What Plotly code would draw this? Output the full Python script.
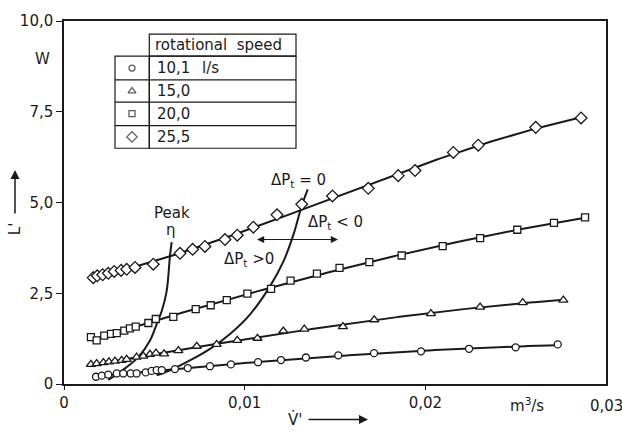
import numpy as np
import plotly.graph_objects as go

# ---------------- data ----------------
speeds = ["10,1", "15,0", "20,0", "25,5"]
symbols = ["circle", "triangle-up", "square", "diamond"]

circ_x = [0.00177, 0.00209, 0.00245, 0.00292, 0.00328, 0.00369, 0.00402, 0.00452, 0.00485,
          0.00513, 0.00541, 0.00614, 0.00685, 0.00808, 0.00924, 0.01074, 0.01201, 0.01339,
          0.01518, 0.01716, 0.01976, 0.02242, 0.02500, 0.02733]
circ_y = [0.20, 0.23, 0.26, 0.29, 0.29, 0.29, 0.29, 0.32, 0.36, 0.38, 0.38, 0.41, 0.44, 0.49,
          0.54, 0.60, 0.66, 0.73, 0.79, 0.85, 0.90, 0.97, 1.01, 1.09]

tri_x = [0.00149, 0.00181, 0.00218, 0.00249, 0.00282, 0.00319, 0.00347, 0.00402, 0.00439,
         0.00476, 0.00509, 0.00554, 0.00633, 0.00735, 0.00845, 0.00959, 0.01071, 0.01214,
         0.01330, 0.01544, 0.01717, 0.02031, 0.02303, 0.02539, 0.02764]
tri_y = [0.54, 0.56, 0.59, 0.61, 0.63, 0.65, 0.68, 0.74, 0.77, 0.82, 0.85, 0.83, 0.92, 1.04,
         1.09, 1.20, 1.26, 1.46, 1.51, 1.58, 1.77, 1.94, 2.12, 2.24, 2.31]

sq_x = [0.00149, 0.00181, 0.00223, 0.00260, 0.00292, 0.00334, 0.00365, 0.00397, 0.00467,
        0.00508, 0.00605, 0.00729, 0.00812, 0.00901, 0.01015, 0.01146, 0.01254, 0.01400,
        0.01525, 0.01690, 0.01869, 0.02096, 0.02303, 0.02509, 0.02712, 0.02884]
sq_y = [1.29, 1.20, 1.33, 1.38, 1.40, 1.47, 1.53, 1.58, 1.68, 1.79, 1.85, 2.06, 2.17, 2.31,
        2.49, 2.62, 2.85, 3.04, 3.20, 3.36, 3.54, 3.80, 4.02, 4.25, 4.44, 4.59]

dia_x = [0.00162, 0.00184, 0.00214, 0.00245, 0.00278, 0.00316, 0.00347, 0.00393, 0.00494,
         0.00642, 0.00712, 0.00780, 0.00891, 0.00959, 0.01048, 0.01179, 0.01316, 0.01486,
         0.01684, 0.01850, 0.01943, 0.02155, 0.02293, 0.02611, 0.02862]
dia_y = [2.93, 2.98, 3.01, 3.05, 3.10, 3.13, 3.16, 3.21, 3.30, 3.60, 3.71, 3.79, 3.98, 4.10,
         4.32, 4.66, 4.95, 5.18, 5.39, 5.74, 5.88, 6.38, 6.58, 7.07, 7.33]

peak_x = [0.00245, 0.00273, 0.00338, 0.00411, 0.00476, 0.00513, 0.00541, 0.00568, 0.00587, 0.00596]
peak_y = [0.11, 0.20, 0.43, 0.74, 1.20, 1.65, 2.01, 2.55, 3.55, 3.91]

dp0_x = [0.00513, 0.00587, 0.00697, 0.00808, 0.00919, 0.01030, 0.01140, 0.01214, 0.01269, 0.01316, 0.01349]
dp0_y = [0.24, 0.38, 0.65, 0.97, 1.38, 1.92, 2.69, 3.37, 4.10, 4.91, 5.36]

x_tickvals = [0, 0.01, 0.02, 0.03]
x_ticktext = ["0", "0,01", "0,02", "0,03"]
y_tickvals = [0, 2.5, 5.0, 7.5, 10.0]
y_ticktext = ["0", "2,5", "5,0", "7,5", "10,0"]

series = [(circ_x, circ_y), (tri_x, tri_y), (sq_x, sq_y), (dia_x, dia_y)]
sizes = [7, 8, 7, 9]

# ---------------- geometry helpers (pixel -> paper) ----------------
W, H = 622, 431
L, R, T, B = 64, 606, 16, 384
X_RANGE = [0, 0.03]
Y_RANGE = [0, 10]


def pxx(xp):
    return (xp - L) / (R - L)


def pxy(yp):
    return (B - yp) / (B - T)


def dx(xp):
    return X_RANGE[0] + pxx(xp) * (X_RANGE[1] - X_RANGE[0])


def dy(yp):
    return Y_RANGE[0] + pxy(yp) * (Y_RANGE[1] - Y_RANGE[0])


FONT = "DejaVu Sans"
INK = "#1a1a1a"

fig = go.Figure()

# fitted curves
for (xs, ys) in series:
    xs_a = np.array(xs)
    ys_a = np.array(ys)
    c = np.polyfit(xs_a, ys_a, 3)
    xf = np.linspace(xs_a.min(), xs_a.max(), 200)
    fig.add_trace(go.Scatter(x=xf, y=np.polyval(c, xf), mode="lines",
                             line=dict(color=INK, width=2), hoverinfo="skip"))

# peak efficiency and dPt = 0 curves
for cx, cy in [(peak_x, peak_y), (dp0_x, dp0_y)]:
    fig.add_trace(go.Scatter(x=cx, y=cy, mode="lines",
                             line=dict(color=INK, width=2, shape="spline", smoothing=1.0),
                             hoverinfo="skip"))

# markers
for (xs, ys), sym, sz in zip(series, symbols, sizes):
    fig.add_trace(go.Scatter(x=xs, y=ys, mode="markers",
                             marker=dict(symbol=sym, size=sz, color="white",
                                         line=dict(color=INK, width=1.3))))

# legend table symbols
row_centers = [63.7, 87.0, 110.0, 133.5]
fig.add_trace(go.Scatter(
    x=[dx(132)] * 4, y=[dy(r) for r in row_centers], mode="markers",
    marker=dict(symbol=symbols, size=[6, 7, 6, 8],
                color="white", line=dict(color=INK, width=1.3)),
    cliponaxis=False))

shapes = []
lw = 1.2


def rect(x0, y0, x1, y1):
    return dict(type="rect", xref="paper", yref="paper", x0=pxx(x0), x1=pxx(x1),
                y0=pxy(y1), y1=pxy(y0), line=dict(color=INK, width=lw))


def hline(x0, x1, y):
    return dict(type="line", xref="paper", yref="paper", x0=pxx(x0), x1=pxx(x1),
                y0=pxy(y), y1=pxy(y), line=dict(color=INK, width=lw))


shapes.append(rect(149.3, 29.3, 296, 51.7))
shapes.append(rect(115, 51.7, 149.3, 145))
shapes.append(rect(149.3, 51.7, 296, 145))
for yy in [75.7, 98.3, 122]:
    shapes.append(hline(115, 296, yy))

annotations = []


def txt(text, xp, yp, size=15, xanchor="center", yanchor="middle", **kw):
    annotations.append(dict(text=text, x=pxx(xp), y=pxy(yp), xref="paper", yref="paper",
                            showarrow=False, xanchor=xanchor, yanchor=yanchor,
                            font=dict(family=FONT, size=size, color=INK), **kw))


def arrow(x_head, y_head, x_tail, y_tail, width=1.3):
    annotations.append(dict(x=pxx(x_head), y=pxy(y_head), xref="paper", yref="paper",
                            ax=x_tail - x_head, ay=y_tail - y_head,
                            axref="pixel", ayref="pixel",
                            showarrow=True, arrowhead=2, arrowsize=1.2, arrowwidth=width,
                            arrowcolor=INK, text=""))


txt("rotational\u00a0\u00a0speed", 153, 40.5, xanchor="left")
txt(speeds[0], 155, 64, xanchor="left")
txt("l/s", 200, 64, xanchor="left")
for s, yy in zip(speeds[1:], [87, 110, 133.5]):
    txt(s, 155, yy, xanchor="left")

txt("Peak", 172, 211)
txt("η", 171, 228)
txt("ΔP<sub>t</sub> = 0", 298, 178)
txt("ΔP<sub>t</sub> < 0", 335, 220)
txt("ΔP<sub>t</sub> >0", 249, 258)
txt("W", 42, 55)
txt("m<sup>3</sup>/s", 527, 405)
txt("V\u0307'", 295, 420)
txt("L'", 15, 227, textangle=-90)
# right-end x tick label (kept as real text at the axis end)
txt(x_ticktext[-1], R, 406)

# double headed arrow
arrow(338, 237.5, 257, 237.5, 1.2)
arrow(257, 237.5, 338, 237.5, 1.2)
# axis arrows
arrow(15, 167, 15, 212, 1.5)
arrow(368, 420, 307, 420, 1.5)

fig.update_layout(
    width=W, height=H,
    margin=dict(l=L, r=W - R, t=T, b=H - B),
    paper_bgcolor="white", plot_bgcolor="white",
    showlegend=False,
    separators=", ",
    font=dict(family=FONT, size=15, color=INK),
    shapes=shapes, annotations=annotations,
    xaxis=dict(range=X_RANGE, tickvals=x_tickvals[:-1], ticktext=x_ticktext[:-1],
               showgrid=False, zeroline=False, showline=True, linecolor=INK, linewidth=1.5,
               mirror=True, ticks="outside", ticklen=4, tickcolor=INK,
               tickfont=dict(family=FONT, size=15, color=INK)),
    yaxis=dict(range=Y_RANGE, tickvals=y_tickvals, ticktext=y_ticktext,
               showgrid=False, zeroline=False, showline=True, linecolor=INK, linewidth=1.5,
               mirror=True, ticks="outside", ticklen=6, tickcolor=INK,
               tickfont=dict(family=FONT, size=15, color=INK)),
)

fig.write_html("out.html")
